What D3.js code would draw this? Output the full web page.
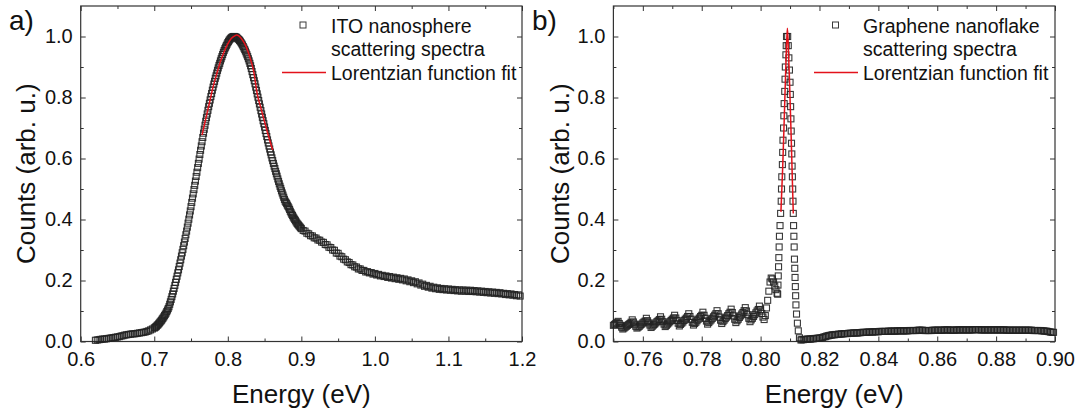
<!DOCTYPE html>
<html>
<head>
<meta charset="utf-8">
<script src="https://cdn.jsdelivr.net/npm/d3@7"></script>
<style>
  body { margin: 0; background: #fff; }
  svg text { font-family: "Liberation Sans", Arial, sans-serif; fill: #111; }
</style>
</head>
<body>
<svg id="chart" width="1081" height="417"></svg>
<script>
// ---- Panel a: ITO nanosphere scattering spectrum ----
var energyITO = [
  0.6200, 0.6225, 0.6250, 0.6275, 0.6300, 0.6325, 0.6350, 0.6375, 0.6400, 0.6425,
  0.6450, 0.6475, 0.6500, 0.6525, 0.6550, 0.6575, 0.6600, 0.6625, 0.6650, 0.6675,
  0.6700, 0.6725, 0.6750, 0.6775, 0.6800, 0.6825, 0.6850, 0.6875, 0.6900, 0.6925,
  0.6950, 0.6975,
  0.700, 0.701, 0.702, 0.703, 0.704, 0.705, 0.706, 0.707, 0.708, 0.709,
  0.710, 0.711, 0.712, 0.713, 0.714, 0.715, 0.716, 0.717, 0.718, 0.719,
  0.720, 0.721, 0.722, 0.723, 0.724, 0.725, 0.726, 0.727, 0.728, 0.729,
  0.730, 0.731, 0.732, 0.733, 0.734, 0.735, 0.736, 0.737, 0.738, 0.739,
  0.740, 0.741, 0.742, 0.743, 0.744, 0.745, 0.746, 0.747, 0.748, 0.749,
  0.750, 0.751, 0.752, 0.753, 0.754, 0.755, 0.756, 0.757, 0.758, 0.759,
  0.760, 0.761, 0.762, 0.763, 0.764, 0.765, 0.766, 0.767, 0.768, 0.769,
  0.770, 0.771, 0.772, 0.773, 0.774, 0.775, 0.776, 0.777, 0.778, 0.779,
  0.780, 0.781, 0.782, 0.783, 0.784, 0.785, 0.786, 0.787, 0.788, 0.789,
  0.790, 0.791, 0.792, 0.793, 0.794, 0.795, 0.796, 0.797, 0.798, 0.799,
  0.800, 0.801, 0.802, 0.803, 0.804, 0.805, 0.806, 0.807, 0.808, 0.809,
  0.810, 0.811, 0.812, 0.813, 0.814, 0.815, 0.816, 0.817, 0.818, 0.819,
  0.820, 0.821, 0.822, 0.823, 0.824, 0.825, 0.826, 0.827, 0.828, 0.829,
  0.830, 0.831, 0.832, 0.833, 0.834, 0.835, 0.836, 0.837, 0.838, 0.839,
  0.840, 0.841, 0.842, 0.843, 0.844, 0.845, 0.846, 0.847, 0.848, 0.849,
  0.850, 0.851, 0.852, 0.853, 0.854, 0.855, 0.856, 0.857, 0.858, 0.859,
  0.860, 0.861, 0.862, 0.863, 0.864, 0.865, 0.866, 0.867, 0.868, 0.869,
  0.870, 0.871, 0.872, 0.873, 0.874, 0.875, 0.876, 0.877, 0.878, 0.879,
  0.880, 0.881, 0.882, 0.883, 0.884, 0.885, 0.886, 0.887, 0.888, 0.889,
  0.890, 0.891, 0.892, 0.893, 0.894, 0.895, 0.896, 0.897, 0.898, 0.899,
  0.9000, 0.9025, 0.9050, 0.9075, 0.9100, 0.9125, 0.9150, 0.9175, 0.9200, 0.9225,
  0.9250, 0.9275, 0.9300, 0.9325, 0.9350, 0.9375, 0.9400, 0.9425, 0.9450, 0.9475,
  0.9500, 0.9525, 0.9550, 0.9575, 0.9600, 0.9625, 0.9650, 0.9675, 0.9700, 0.9725,
  0.9750, 0.9775, 0.9800, 0.9825, 0.9850, 0.9875, 0.9900, 0.9925, 0.9950, 0.9975,
  1.0000, 1.0025, 1.0050, 1.0075, 1.0100, 1.0125, 1.0150, 1.0175, 1.0200, 1.0225,
  1.0250, 1.0275, 1.0300, 1.0325, 1.0350, 1.0375, 1.0400, 1.0425, 1.0450, 1.0475,
  1.0500, 1.0525, 1.0550, 1.0575, 1.0600, 1.0625, 1.0650, 1.0675, 1.0700, 1.0725,
  1.0750, 1.0775, 1.0800, 1.0825, 1.0850, 1.0875, 1.0900, 1.0925, 1.0950, 1.0975,
  1.1000, 1.1025, 1.1050, 1.1075, 1.1100, 1.1125, 1.1150, 1.1175, 1.1200, 1.1225,
  1.1250, 1.1275, 1.1300, 1.1325, 1.1350, 1.1375, 1.1400, 1.1425, 1.1450, 1.1475,
  1.1500, 1.1525, 1.1550, 1.1575, 1.1600, 1.1625, 1.1650, 1.1675, 1.1700, 1.1725,
  1.1750, 1.1775, 1.1800, 1.1825, 1.1850, 1.1875, 1.1900, 1.1925, 1.1950, 1.1975
];
var countsITO = [
  0.004, 0.005, 0.006, 0.007, 0.008, 0.008, 0.009, 0.010, 0.011, 0.012,
  0.013, 0.014, 0.015, 0.016, 0.018, 0.019, 0.021, 0.022, 0.023, 0.024,
  0.025, 0.025, 0.026, 0.027, 0.028, 0.029, 0.030, 0.031, 0.033, 0.035,
  0.038, 0.041,
  0.044, 0.046, 0.048, 0.050, 0.053, 0.055, 0.058, 0.061, 0.064, 0.067,
  0.070, 0.074, 0.077, 0.081, 0.085, 0.089, 0.093, 0.098, 0.103, 0.108,
  0.114, 0.122, 0.130, 0.138, 0.147, 0.156, 0.165, 0.174, 0.184, 0.194,
  0.204, 0.214, 0.225, 0.235, 0.246, 0.257, 0.268, 0.280, 0.291, 0.302,
  0.314, 0.326, 0.338, 0.350, 0.362, 0.375, 0.388, 0.401, 0.415, 0.428,
  0.442, 0.456, 0.470, 0.484, 0.498, 0.512, 0.526, 0.541, 0.555, 0.570,
  0.584, 0.598, 0.613, 0.627, 0.641, 0.655, 0.669, 0.683, 0.696, 0.709,
  0.722, 0.734, 0.746, 0.758, 0.770, 0.781, 0.792, 0.803, 0.813, 0.824,
  0.834, 0.844, 0.853, 0.863, 0.871, 0.880, 0.889, 0.897, 0.905, 0.912,
  0.920, 0.927, 0.934, 0.941, 0.948, 0.954, 0.960, 0.965, 0.970, 0.975,
  0.980, 0.984, 0.988, 0.991, 0.994, 0.996, 0.998, 0.999, 1.000, 1.000,
  0.999, 0.998, 0.997, 0.994, 0.992, 0.990, 0.987, 0.984, 0.980, 0.976,
  0.972, 0.967, 0.962, 0.957, 0.952, 0.946, 0.940, 0.934, 0.927, 0.920,
  0.912, 0.904, 0.895, 0.885, 0.875, 0.865, 0.855, 0.845, 0.834, 0.823,
  0.812, 0.801, 0.790, 0.779, 0.768, 0.757, 0.746, 0.735, 0.724, 0.714,
  0.703, 0.692, 0.682, 0.672, 0.661, 0.651, 0.641, 0.631, 0.621, 0.612,
  0.602, 0.593, 0.584, 0.575, 0.567, 0.558, 0.550, 0.542, 0.533, 0.525,
  0.517, 0.509, 0.502, 0.494, 0.487, 0.480, 0.473, 0.466, 0.460, 0.456,
  0.452, 0.447, 0.443, 0.438, 0.433, 0.427, 0.422, 0.417, 0.413, 0.408,
  0.404, 0.400, 0.396, 0.392, 0.388, 0.385, 0.382, 0.379, 0.376, 0.373,
  0.370, 0.364, 0.362, 0.355, 0.353, 0.347, 0.346, 0.340, 0.339, 0.333,
  0.332, 0.326, 0.325, 0.318, 0.317, 0.309, 0.308, 0.300, 0.299, 0.290,
  0.289, 0.280, 0.278, 0.270, 0.268, 0.261, 0.259, 0.252, 0.251, 0.245,
  0.244, 0.238, 0.238, 0.233, 0.233, 0.228, 0.229, 0.225, 0.226, 0.221,
  0.223, 0.218, 0.220, 0.215, 0.217, 0.213, 0.215, 0.210, 0.213, 0.208,
  0.211, 0.206, 0.209, 0.204, 0.207, 0.202, 0.205, 0.199, 0.202, 0.196,
  0.199, 0.193, 0.196, 0.189, 0.192, 0.185, 0.188, 0.181, 0.184, 0.178,
  0.181, 0.175, 0.178, 0.173, 0.176, 0.171, 0.174, 0.170, 0.173, 0.169,
  0.172, 0.168, 0.171, 0.167, 0.170, 0.166, 0.169, 0.165, 0.169, 0.165,
  0.168, 0.164, 0.168, 0.164, 0.167, 0.163, 0.166, 0.162, 0.165, 0.161,
  0.164, 0.160, 0.163, 0.159, 0.162, 0.158, 0.161, 0.157, 0.160, 0.156,
  0.158, 0.154, 0.157, 0.153, 0.156, 0.152, 0.154, 0.150, 0.153, 0.149
];
// Lorentzian fit for panel a
var fitEnergyITO = [0.765, 0.770, 0.775, 0.780, 0.785, 0.790, 0.795, 0.800, 0.805, 0.810,
                    0.812, 0.815, 0.820, 0.825, 0.830, 0.835, 0.840, 0.845, 0.850, 0.855, 0.861];
var fitCountsITO = [0.677, 0.730, 0.782, 0.835, 0.878, 0.918, 0.950, 0.976, 0.994, 1.003,
                    1.005, 1.002, 0.988, 0.966, 0.932, 0.888, 0.812, 0.765, 0.720, 0.676, 0.628];

// ---- Panel b: graphene nanoflake scattering spectrum ----
var energyGraphene = [
  // oscillating background below the peak
  0.7500, 0.7504, 0.7508, 0.7512, 0.7516, 0.7520, 0.7524, 0.7528, 0.7532, 0.7536,
  0.7540, 0.7544, 0.7548, 0.7552, 0.7556, 0.7560, 0.7564, 0.7568, 0.7572, 0.7576,
  0.7580, 0.7584, 0.7588, 0.7592, 0.7596, 0.7600, 0.7604, 0.7608, 0.7612, 0.7616,
  0.7620, 0.7624, 0.7628, 0.7632, 0.7636, 0.7640, 0.7644, 0.7648, 0.7652, 0.7656,
  0.7660, 0.7664, 0.7668, 0.7672, 0.7676, 0.7680, 0.7684, 0.7688, 0.7692, 0.7696,
  0.7700, 0.7704, 0.7708, 0.7712, 0.7716, 0.7720, 0.7724, 0.7728, 0.7732, 0.7736,
  0.7740, 0.7744, 0.7748, 0.7752, 0.7756, 0.7760, 0.7764, 0.7768, 0.7772, 0.7776,
  0.7780, 0.7784, 0.7788, 0.7792, 0.7796, 0.7800, 0.7804, 0.7808, 0.7812, 0.7816,
  0.7820, 0.7824, 0.7828, 0.7832, 0.7836, 0.7840, 0.7844, 0.7848, 0.7852, 0.7856,
  0.7860, 0.7864, 0.7868, 0.7872, 0.7876, 0.7880, 0.7884, 0.7888, 0.7892, 0.7896,
  0.7900, 0.7904, 0.7908, 0.7912, 0.7916, 0.7920, 0.7924, 0.7928, 0.7932, 0.7936,
  0.7940, 0.7944, 0.7948, 0.7952, 0.7956, 0.7960, 0.7964, 0.7968, 0.7972, 0.7976,
  0.7980, 0.7984, 0.7988, 0.7992, 0.7996, 0.8000, 0.8004, 0.8008, 0.8012, 0.8016,
  0.8020, 0.8024, 0.8028, 0.8032, 0.8036, 0.8040, 0.8044, 0.8048, 0.8052, 0.8056,
  // peak, rising side
  0.8058, 0.8059, 0.8060, 0.8061, 0.8062, 0.8063, 0.8064, 0.8066, 0.8068, 0.8070,
  0.8071, 0.8072, 0.8074, 0.8075, 0.8076, 0.8078, 0.8079, 0.8080, 0.8082, 0.8083,
  0.8084, 0.8086, 0.8087, 0.8088,
  // peak, falling side
  0.8092, 0.8094, 0.8096, 0.8098, 0.8100, 0.8101, 0.8102, 0.8103, 0.8104, 0.8105,
  0.8106, 0.8107, 0.8108, 0.8109, 0.8110, 0.8111, 0.8112, 0.8113, 0.8114, 0.8115,
  0.8116, 0.8117, 0.8118, 0.8119, 0.8120, 0.8122, 0.8125, 0.8128, 0.8132, 0.8137,
  // flat tail
  0.8140, 0.8145, 0.8150, 0.8155, 0.8160, 0.8165, 0.8170, 0.8175, 0.8180, 0.8185,
  0.8190, 0.8195, 0.8200, 0.8205, 0.8210, 0.8215, 0.8220, 0.8225, 0.8230, 0.8235,
  0.8240, 0.8245, 0.8250, 0.8255, 0.8260, 0.8265, 0.8270, 0.8275, 0.8280, 0.8285,
  0.8290, 0.8295, 0.8300, 0.8305, 0.8310, 0.8315, 0.8320, 0.8325, 0.8330, 0.8335,
  0.8340, 0.8345, 0.8350, 0.8355, 0.8360, 0.8365, 0.8370, 0.8375, 0.8380, 0.8385,
  0.8390, 0.8395, 0.8400, 0.8405, 0.8410, 0.8415, 0.8420, 0.8425, 0.8430, 0.8435,
  0.8440, 0.8445, 0.8450, 0.8455, 0.8460, 0.8465, 0.8470, 0.8475, 0.8480, 0.8485,
  0.8490, 0.8495, 0.8500, 0.8505, 0.8510, 0.8515, 0.8520, 0.8525, 0.8530, 0.8535,
  0.8540, 0.8545, 0.8550, 0.8555, 0.8560, 0.8565, 0.8570, 0.8575, 0.8580, 0.8585,
  0.8590, 0.8595, 0.8600, 0.8605, 0.8610, 0.8615, 0.8620, 0.8625, 0.8630, 0.8635,
  0.8640, 0.8645, 0.8650, 0.8655, 0.8660, 0.8665, 0.8670, 0.8675, 0.8680, 0.8685,
  0.8690, 0.8695, 0.8700, 0.8705, 0.8710, 0.8715, 0.8720, 0.8725, 0.8730, 0.8735,
  0.8740, 0.8745, 0.8750, 0.8755, 0.8760, 0.8765, 0.8770, 0.8775, 0.8780, 0.8785,
  0.8790, 0.8795, 0.8800, 0.8805, 0.8810, 0.8815, 0.8820, 0.8825, 0.8830, 0.8835,
  0.8840, 0.8845, 0.8850, 0.8855, 0.8860, 0.8865, 0.8870, 0.8875, 0.8880, 0.8885,
  0.8890, 0.8895, 0.8900, 0.8905, 0.8910, 0.8915, 0.8920, 0.8925, 0.8930, 0.8935,
  0.8940, 0.8945, 0.8950, 0.8955, 0.8960, 0.8965, 0.8970, 0.8975, 0.8980, 0.8985,
  0.8990, 0.8995
];
var countsGraphene = [
  0.053, 0.056, 0.059, 0.062, 0.066, 0.059, 0.053, 0.047, 0.041, 0.044,
  0.047, 0.050, 0.053, 0.056, 0.059, 0.063, 0.071, 0.064, 0.057, 0.050,
  0.044, 0.047, 0.050, 0.054, 0.057, 0.061, 0.064, 0.067, 0.076, 0.068,
  0.061, 0.054, 0.046, 0.050, 0.054, 0.057, 0.061, 0.065, 0.068, 0.072,
  0.081, 0.073, 0.065, 0.057, 0.049, 0.053, 0.057, 0.061, 0.065, 0.069,
  0.073, 0.077, 0.086, 0.077, 0.069, 0.060, 0.051, 0.056, 0.060, 0.064,
  0.069, 0.073, 0.077, 0.082, 0.091, 0.082, 0.073, 0.063, 0.054, 0.059,
  0.063, 0.068, 0.073, 0.077, 0.082, 0.086, 0.096, 0.086, 0.076, 0.067,
  0.057, 0.062, 0.067, 0.071, 0.076, 0.081, 0.086, 0.091, 0.101, 0.091,
  0.080, 0.070, 0.059, 0.065, 0.070, 0.075, 0.080, 0.085, 0.091, 0.096,
  0.106, 0.095, 0.084, 0.073, 0.062, 0.068, 0.073, 0.079, 0.084, 0.090,
  0.095, 0.101, 0.111, 0.100, 0.088, 0.076, 0.065, 0.071, 0.076, 0.082,
  0.088, 0.094, 0.100, 0.105, 0.116, 0.104, 0.092, 0.080, 0.072, 0.085,
  0.110, 0.135, 0.165, 0.195, 0.208, 0.205, 0.195, 0.182, 0.170, 0.158,
  0.155, 0.185, 0.215, 0.245, 0.275, 0.310, 0.345, 0.380, 0.420, 0.460,
  0.500, 0.540, 0.580, 0.620, 0.660, 0.700, 0.740, 0.780, 0.820, 0.860,
  0.900, 0.940, 0.970, 1.000,
  1.000, 0.970, 0.930, 0.890, 0.850, 0.810, 0.770, 0.730, 0.690, 0.650,
  0.615, 0.575, 0.540, 0.500, 0.460, 0.420, 0.380, 0.345, 0.310, 0.270,
  0.240, 0.210, 0.180, 0.150, 0.120, 0.090, 0.060, 0.035, 0.012, 0.005,
  0.006, 0.006, 0.007, 0.007, 0.008, 0.008, 0.008, 0.009, 0.009, 0.010,
  0.010, 0.011, 0.011, 0.012, 0.013, 0.015, 0.016, 0.018, 0.019, 0.020,
  0.021, 0.022, 0.022, 0.023, 0.023, 0.024, 0.024, 0.025, 0.025, 0.026,
  0.026, 0.026, 0.027, 0.027, 0.027, 0.028, 0.028, 0.028, 0.028, 0.029,
  0.029, 0.030, 0.030, 0.030, 0.030, 0.031, 0.031, 0.031, 0.031, 0.032,
  0.032, 0.032, 0.032, 0.033, 0.033, 0.033, 0.033, 0.033, 0.033, 0.034,
  0.034, 0.034, 0.034, 0.034, 0.034, 0.035, 0.035, 0.035, 0.035, 0.035,
  0.035, 0.035, 0.035, 0.036, 0.036, 0.036, 0.036, 0.036, 0.036, 0.037,
  0.037, 0.037, 0.037, 0.036, 0.036, 0.036, 0.036, 0.036, 0.036, 0.037,
  0.037, 0.037, 0.037, 0.037, 0.037, 0.037, 0.037, 0.038, 0.038, 0.038,
  0.038, 0.037, 0.037, 0.037, 0.037, 0.038, 0.038, 0.038, 0.038, 0.038,
  0.038, 0.038, 0.038, 0.038, 0.038, 0.038, 0.038, 0.039, 0.039, 0.039,
  0.039, 0.038, 0.038, 0.038, 0.038, 0.038, 0.038, 0.038, 0.038, 0.038,
  0.038, 0.038, 0.038, 0.038, 0.038, 0.038, 0.038, 0.038, 0.038, 0.037,
  0.037, 0.037, 0.037, 0.037, 0.037, 0.037, 0.037, 0.037, 0.037, 0.037,
  0.037, 0.037, 0.037, 0.037, 0.037, 0.037, 0.037, 0.036, 0.036, 0.036,
  0.036, 0.036, 0.036, 0.035, 0.035, 0.034, 0.034, 0.033, 0.032, 0.031,
  0.030, 0.030
];
// Lorentzian fit for panel b
var fitEnergyGraphene = [0.8069, 0.8075, 0.8080, 0.8085, 0.8088, 0.8091, 0.8094, 0.8098, 0.8103, 0.8107, 0.8111];
var fitCountsGraphene = [0.425, 0.570, 0.720, 0.880, 0.970, 1.027, 0.970, 0.860, 0.700, 0.560, 0.420];

// ---- Axis ticks ----
var yMajor = [0, 0.2, 0.4, 0.6, 0.8, 1.0];
var yMinor = [0.1, 0.3, 0.5, 0.7, 0.9];
var xMajorA = [0.6, 0.7, 0.8, 0.9, 1.0, 1.1, 1.2];
var xMinorA = [0.65, 0.75, 0.85, 0.95, 1.05, 1.15];
var xMajorB = [0.76, 0.78, 0.80, 0.82, 0.84, 0.86, 0.88, 0.90];
var xMinorB = [0.75, 0.77, 0.79, 0.81, 0.83, 0.85, 0.87, 0.89];

var svg = d3.select("#chart");

function drawPanel(p) {
  var x = d3.scaleLinear().domain(p.xDomain).range([0, p.width]);
  var y = d3.scaleLinear().domain([0, 1.1]).range([p.height, 0]);

  var g = svg.append("g").attr("transform", `translate(${p.left}, ${p.top})`);

  // ticks: major/minor, inward, mirrored on top and right
  function addAxis(axis, transform) {
    var a = g.append("g").attr("transform", transform).call(axis);
    a.select(".domain").remove();
    a.selectAll("line").attr("stroke", "#333");
    a.selectAll("text").attr("font-size", 20).attr("fill", "#111");
    return a;
  }
  addAxis(d3.axisBottom(x).tickValues(p.xMajor).tickFormat(p.xFormat).tickSizeInner(-5).tickSizeOuter(0).tickPadding(10),
          `translate(0, ${p.height})`);
  addAxis(d3.axisBottom(x).tickValues(p.xMinor).tickFormat("").tickSizeInner(-3).tickSizeOuter(0),
          `translate(0, ${p.height})`);
  addAxis(d3.axisTop(x).tickValues(p.xMajor).tickFormat("").tickSizeInner(-5).tickSizeOuter(0), "translate(0,0)");
  addAxis(d3.axisTop(x).tickValues(p.xMinor).tickFormat("").tickSizeInner(-3).tickSizeOuter(0), "translate(0,0)");
  addAxis(d3.axisLeft(y).tickValues(yMajor).tickFormat(d3.format(".1f")).tickSizeInner(-5).tickSizeOuter(0).tickPadding(8),
          "translate(0,0)");
  addAxis(d3.axisLeft(y).tickValues(yMinor).tickFormat("").tickSizeInner(-3).tickSizeOuter(0), "translate(0,0)");
  addAxis(d3.axisRight(y).tickValues(yMajor).tickFormat("").tickSizeInner(-5).tickSizeOuter(0), `translate(${p.width},0)`);
  addAxis(d3.axisRight(y).tickValues(yMinor).tickFormat("").tickSizeInner(-3).tickSizeOuter(0), `translate(${p.width},0)`);

  // frame
  g.append("rect")
    .attr("x", 0).attr("y", 0)
    .attr("width", p.width).attr("height", p.height)
    .attr("fill", "none").attr("stroke", "#333").attr("stroke-width", 1.2);

  // data: open squares
  var pts = p.energy.map(function(e, i) { return { e: e, c: p.counts[i] }; });
  g.append("g").selectAll("rect")
    .data(pts)
    .enter()
    .append("rect")
    .attr("x", d => x(d.e) - 3)
    .attr("y", d => y(d.c) - 3)
    .attr("width", 6)
    .attr("height", 6)
    .attr("fill", "none")
    .attr("stroke", "#222")
    .attr("stroke-opacity", 0.9)
    .attr("stroke-width", 1.1);

  // fit line
  var fit = p.fitE.map(function(e, i) { return { e: e, c: p.fitC[i] }; });
  g.append("path")
    .datum(fit)
    .attr("fill", "none")
    .attr("stroke", "#e3121b")
    .attr("stroke-width", 1.5)
    .attr("d", d3.line().x(d => x(d.e)).y(d => y(d.c)).curve(d3.curveMonotoneX));

  // axis titles
  svg.append("text")
    .attr("x", p.left + p.width / 2)
    .attr("y", 403)
    .attr("text-anchor", "middle")
    .attr("font-size", 26)
    .text("Energy (eV)");
  svg.append("text")
    .attr("transform", `translate(${p.yTitleX}, ${p.top + p.height / 2}) rotate(-90)`)
    .attr("text-anchor", "middle")
    .attr("font-size", 26)
    .text("Counts (arb. u.)");

  // panel label
  svg.append("text")
    .attr("x", p.labelX).attr("y", 30)
    .attr("font-size", 28)
    .text(p.label);

  // legend
  svg.append("rect")
    .attr("x", p.legMarkerX - 3).attr("y", 22)
    .attr("width", 6).attr("height", 6)
    .attr("fill", "none").attr("stroke", "#3a3a3a").attr("stroke-width", 1);
  svg.append("line")
    .attr("x1", p.legLine[0]).attr("x2", p.legLine[1])
    .attr("y1", 72.5).attr("y2", 72.5)
    .attr("stroke", "#e3121b").attr("stroke-width", 1.5);
  p.legend.forEach(function(t, i) {
    svg.append("text")
      .attr("x", p.legTextX)
      .attr("y", [32.5, 56, 80][i])
      .attr("font-size", 19.5)
      .text(t);
  });
}

drawPanel({
  left: 80.7, top: 6, width: 441.3, height: 335.5,
  xDomain: [0.6, 1.2], xMajor: xMajorA, xMinor: xMinorA, xFormat: d3.format(".1f"),
  energy: energyITO, counts: countsITO, fitE: fitEnergyITO, fitC: fitCountsITO,
  yTitleX: 35, label: "a)", labelX: 9,
  legMarkerX: 303, legLine: [282, 326], legTextX: 331,
  legend: ["ITO nanosphere", "scattering spectra", "Lorentzian function fit"]
});

drawPanel({
  left: 613.4, top: 6, width: 441.6, height: 335.5,
  xDomain: [0.75, 0.90], xMajor: xMajorB, xMinor: xMinorB, xFormat: d3.format(".2f"),
  energy: energyGraphene, counts: countsGraphene, fitE: fitEnergyGraphene, fitC: fitCountsGraphene,
  yTitleX: 569, label: "b)", labelX: 532,
  legMarkerX: 835.5, legLine: [814, 858], legTextX: 863,
  legend: ["Graphene nanoflake", "scattering spectra", "Lorentzian function fit"]
});
</script>
</body>
</html>
